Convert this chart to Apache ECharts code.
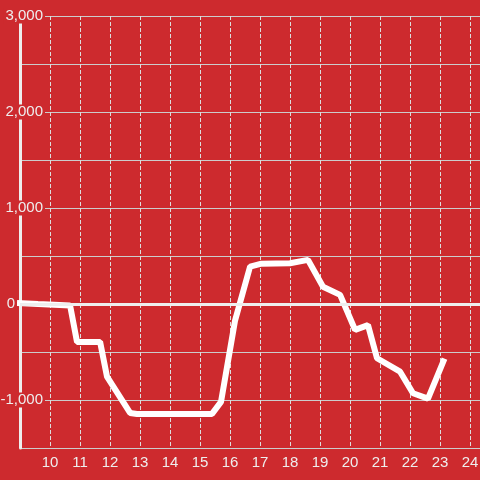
<!DOCTYPE html>
<html>
<head>
<meta charset="utf-8">
<script src="https://cdn.jsdelivr.net/npm/echarts@6/dist/echarts.min.js"></script>
<style>
  html, body { margin: 0; padding: 0; background: #cd2a2e; }
  #chart-container { width: 480px; height: 480px; }
</style>
</head>
<body>
<div id="chart-container"></div>
<script>
// hours along the x axis and the values
var hours = [8.9, 9.6, 10.67, 10.9, 11.67, 11.9, 12.67, 12.9, 15.4, 15.7, 16.17, 16.67, 17.05, 18, 18.6, 19.1, 19.67, 20.17, 20.6, 20.9, 21.67, 22.1, 22.6, 23.15];
var values = [10, 0, -15, -395, -395, -757, -1135, -1145, -1145, -1020, -170, 390, 420, 425, 460, 180, 95, -270, -220, -565, -705, -930, -985, -570];

var dom = document.getElementById('chart-container');
var myChart = echarts.init(dom, null, {
    renderer: 'canvas',
    useDirtyRect: false
});

var points = hours.map(function (h, i) {
    return [h, values[i]];
});

var option = {
    animation: false,
    backgroundColor: '#cd2a2e',
    textStyle: {
        fontFamily: 'Liberation Sans'
    },
    grid: {
        left: 20,
        right: 0,
        top: 16,
        bottom: 32,
        outerBoundsMode: 'none'
    },
    xAxis: {
        type: 'value',
        min: 9,
        max: 24.3333,
        interval: 1,
        axisLine: { show: false },
        axisTick: { show: false },
        axisLabel: {
            color: '#eee',
            fontSize: 15,
            margin: 7,
            showMinLabel: false,
            showMaxLabel: false
        },
        splitLine: {
            show: true,
            lineStyle: {
                color: '#ddd',
                type: 'dashed'
            }
        }
    },
    yAxis: {
        type: 'value',
        min: -1500,
        max: 3000,
        interval: 500,
        axisLine: {
            show: true,
            lineStyle: { color: '#eee', width: 3 }
        },
        axisTick: { show: false },
        axisLabel: {
            color: '#eee',
            fontSize: 15,
            margin: -25,
            backgroundColor: '#cd2a2e',
            padding: [0, 2],
            formatter: function (v) {
                if (v === 0 || v % 1000 !== 0) {
                    return '';
                }
                return echarts.format.addCommas(v);
            }
        },
        splitLine: {
            lineStyle: { color: '#ccc' }
        }
    },
    series: [
        {
            type: 'line',
            data: points,
            clip: false,
            showSymbol: false,
            symbol: 'none',
            lineStyle: {
                color: '#fff',
                width: 6
            },
            markLine: {
                silent: true,
                symbol: ['none', 'none'],
                lineStyle: {
                    color: '#eee',
                    width: 3,
                    type: 'solid'
                },
                label: {
                    show: true,
                    position: 'start',
                    formatter: '0',
                    color: '#eee',
                    fontSize: 15
                },
                data: [{ yAxis: 0 }]
            }
        }
    ]
};

myChart.setOption(option);
window.addEventListener('resize', myChart.resize);
</script>
</body>
</html>
